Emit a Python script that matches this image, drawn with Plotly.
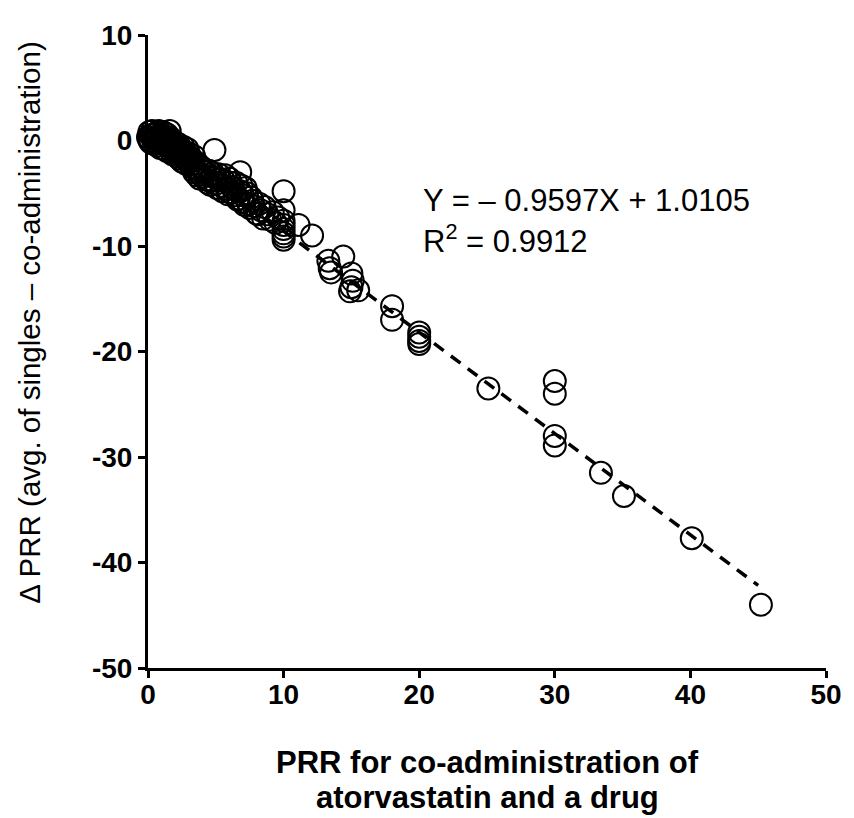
import plotly.graph_objects as go

# PRR for co-administration (x) and delta PRR (y)
prr_coadmin = [
    0.1, 0.2, 0.3, 0.4, 0.5, 0.5, 0.6, 0.7, 0.8, 0.9, 1.0, 1.0, 1.1, 1.2, 1.3, 1.4, 1.5, 1.5, 1.6, 1.7,
    1.8, 1.9, 2.0, 2.0, 2.1, 2.2, 2.3, 2.4, 2.5, 2.6, 2.7, 2.8, 2.9, 3.0, 3.0, 3.1, 3.2, 3.3, 3.4, 3.5,
    3.6, 3.7, 3.8, 3.9, 4.0, 4.0, 4.2, 4.3, 4.5, 4.5, 4.7, 4.9, 5.0, 5.0, 5.2, 5.4, 5.6, 5.8, 6.0, 6.0,
    6.2, 6.4, 6.5, 6.8, 6.7, 6.8, 7.0, 7.0, 7.2, 7.4, 7.6, 7.8, 8.0, 8.2, 8.5, 8.6, 9.0, 9.2,
    0.0, 0.1, 0.2, 0.3, 0.4, 0.6, 0.7, 0.8, 0.9, 1.1, 1.2, 1.3, 1.4, 1.6, 1.7, 1.8, 1.9, 2.1, 2.2, 2.3,
    2.4, 2.5, 2.6, 2.8, 2.9, 3.1, 3.3, 3.4, 3.6, 3.8, 4.1, 4.4, 4.6, 4.8, 5.1, 5.3, 5.5, 5.7, 5.9, 6.1,
    6.3, 6.6, 6.9, 7.1, 7.3, 7.5, 7.7, 8.1, 8.3, 8.8, 9.4, 9.6,
    10.0, 10.0, 10.0, 10.0, 10.0, 10.0, 10.0, 10.0, 11.1, 12.1,
    13.3, 13.4, 13.5, 14.4, 15.0, 15.1, 15.0, 15.5, 14.9,
    18.0, 18.0, 20.0, 20.0, 20.0, 20.0, 25.1, 30.0, 30.0, 30.0, 30.0,
    33.4, 35.1, 40.1, 45.2,
]
delta_prr = [
    0.8, 0.5, 0.9, 0.2, 0.6, -0.1, 0.7, 0.3, 0.9, 0.0, 0.5, -0.3, 0.8, 0.1, -0.4, 0.6, -0.2, 0.3, 0.9, -0.6,
    0.0, -0.5, -1.0, -0.2, -0.8, -1.2, -0.5, -1.4, -0.9, -1.6, -1.1, -1.8, -1.4, -2.0, -1.2, -2.3, -1.7, -2.5, -1.5, -2.7,
    -2.1, -3.0, -2.4, -3.2, -2.6, -3.4, -3.0, -3.7, -2.9, -3.8, -3.4, -0.9, -4.1, -3.5, -3.2, -4.3, -3.8, -4.6, -3.6, -4.9,
    -4.4, -5.2, -4.0, -3.0, -5.5, -4.8, -5.8, -5.2, -4.5, -6.0, -5.4, -6.2, -6.9, -6.0, -7.4, -6.3, -7.5, -6.8,
    0.3, 0.0, -0.2, 0.5, -0.3, 0.1, -0.5, 0.4, -0.7, -0.1, -0.8, 0.3, -1.0, -0.6, 0.2, -1.3, -0.9, -1.5, -0.3, -1.7,
    -0.9, -2.0, -0.6, -2.2, -0.8, -1.6, -1.9, -3.0, -3.3, -3.6, -2.9, -4.0, -4.2, -3.1, -4.5, -3.7, -4.8, -3.3, -5.1, -4.0,
    -4.6, -5.6, -4.3, -6.1, -5.0, -6.4, -5.7, -7.0, -6.6, -7.0, -7.8, -7.3,
    -4.8, -6.6, -7.6, -8.0, -8.4, -8.8, -9.1, -9.4, -8.0, -9.0,
    -11.4, -12.1, -12.5, -11.0, -12.6, -13.3, -13.9, -14.2, -14.3,
    -15.7, -17.0, -18.2, -18.6, -19.0, -19.3, -23.5, -22.8, -24.0, -28.0, -28.9,
    -31.5, -33.7, -37.7, -44.0,
]

# Regression line
fit_slope = -0.9597
fit_intercept = 1.0105
fit_x = [0, 45]
fit_y = [fit_slope * v + fit_intercept for v in fit_x]

x_ticks = [0, 10, 20, 30, 40, 50]
y_ticks = [-50, -40, -30, -20, -10, 0, 10]

eq_text = "Y = \u2013 0.9597X + 1.0105"
r2_text = "R<sup>2</sup> = 0.9912"
x_title_1 = "PRR for co-administration of"
x_title_2 = "atorvastatin and a drug"
y_title = "\u0394 PRR (avg. of singles \u2013 co-administration)"

FONT = "Liberation Sans, Arial, sans-serif"

fig = go.Figure()
fig.add_trace(go.Scatter(
    x=fit_x, y=fit_y, mode="lines",
    line=dict(color="black", width=3.5, dash="12px,9px"),
    hoverinfo="skip", showlegend=False,
))
fig.add_trace(go.Scatter(
    x=prr_coadmin, y=delta_prr, mode="markers",
    marker=dict(symbol="circle-open", size=22, color="black", line=dict(width=2, color="black")),
    cliponaxis=False, showlegend=False,
))

axis_common = dict(
    showline=True, linecolor="black", linewidth=3,
    ticks="outside", ticklen=7, tickwidth=3, tickcolor="black",
    showgrid=False, zeroline=False,
    tickfont=dict(family=FONT, size=28, color="black", weight="bold"),
)

fig.update_layout(
    width=854, height=818,
    margin=dict(l=140, r=36, t=22, b=158),
    paper_bgcolor="white", plot_bgcolor="white",
    xaxis=dict(
        range=[0, 50], tickvals=x_ticks, ticktext=[str(v) for v in x_ticks],
        ticklabelstandoff=-8,
        **axis_common,
    ),
    yaxis=dict(
        range=[-50, 10], tickvals=y_ticks, ticktext=[str(v) for v in y_ticks],
        **axis_common,
    ),
    annotations=[
        dict(x=20.1, y=-5.7, xref="x", yref="y", text=eq_text, showarrow=False,
             xanchor="left", yanchor="middle", font=dict(family=FONT, size=31, color="black")),
        dict(x=20.1, y=-9.3, xref="x", yref="y", text=r2_text, showarrow=False,
             xanchor="left", yanchor="middle", font=dict(family=FONT, size=31, color="black")),
        dict(x=0.5, y=0, xref="paper", yref="paper", yshift=-94, text=x_title_1, showarrow=False,
             xanchor="center", yanchor="middle",
             font=dict(family=FONT, size=31, color="black", weight="bold")),
        dict(x=0.5, y=0, xref="paper", yref="paper", yshift=-129, text=x_title_2, showarrow=False,
             xanchor="center", yanchor="middle",
             font=dict(family=FONT, size=31, color="black", weight="bold")),
        dict(x=0, y=0.5455, xref="paper", yref="paper", xshift=-118, text=y_title, showarrow=False,
             textangle=-90, xanchor="center", yanchor="middle",
             font=dict(family=FONT, size=29.5, color="black")),
    ],
)

fig.write_html("out.html")
